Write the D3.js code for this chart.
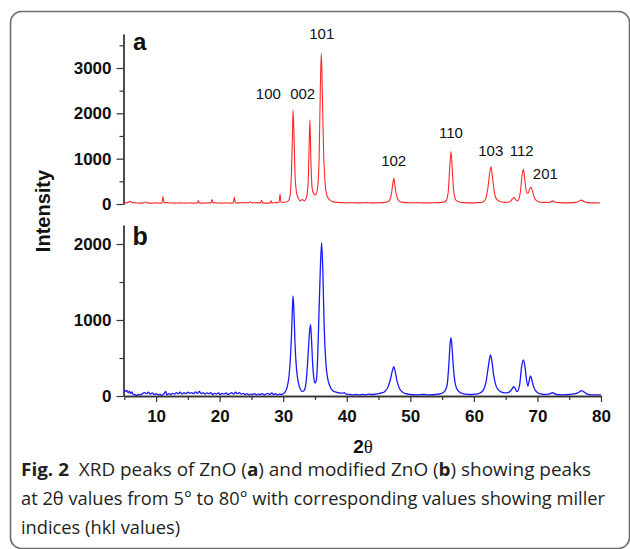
<!DOCTYPE html>
<html>
<head>
<meta charset="utf-8">
<script src="https://cdn.jsdelivr.net/npm/d3@7"></script>
<style>
  html, body { margin: 0; padding: 0; background: #fff; }
  svg { display: block; }
</style>
</head>
<body>
<div id="chart"></div>
<script>

// panel a : ZnO  (2theta, counts)
const thetaA = [5.0,5.5,5.9,6.2,6.8,7.5,8.0,8.3,8.6,9.2,10.0,10.6,10.95,11.1,11.25,11.6,12.2,13.0,13.8,14.5,15.3,16.0,16.5,16.65,16.8,17.5,18.2,18.65,18.8,18.95,19.5,20.3,21.0,21.8,22.15,22.3,22.45,23.0,23.8,24.5,24.8,25.1,25.8,26.4,26.6,26.8,27.4,28.0,28.1,28.25,28.8,29.35,29.5,29.65,30.2,30.8,31.1,31.3,31.45,31.55,31.7,31.85,32.1,32.4,32.7,33.0,33.3,33.6,33.9,34.05,34.2,34.35,34.55,34.8,35.1,35.4,35.65,35.85,36.0,36.15,36.35,36.6,36.9,37.3,37.8,38.5,39.3,40.0,40.8,41.5,42.3,43.0,43.8,44.5,45.3,46.0,46.6,47.0,47.25,47.4,47.55,47.8,48.2,48.8,49.5,50.3,51.0,52.0,53.0,54.0,55.0,55.6,55.95,56.2,56.4,56.6,56.85,57.2,57.8,58.5,59.5,60.5,61.3,61.8,62.2,62.5,62.7,62.9,63.2,63.6,64.2,65.0,65.7,66.0,66.3,66.6,66.9,67.3,67.6,67.8,68.0,68.3,68.55,68.8,69.0,69.2,69.5,69.9,70.5,71.3,72.0,72.4,72.8,73.5,74.5,75.5,76.3,76.9,77.4,78.0,79.0,79.8];
const countsA = [25,30,60,30,25,20,25,45,25,20,25,20,25,165,30,30,25,20,25,20,25,20,25,75,25,20,25,25,100,30,25,20,25,20,25,150,30,25,30,25,50,25,30,25,80,25,20,25,70,25,30,35,220,40,40,70,200,700,1500,2075,1500,700,250,120,70,100,70,120,400,1100,1855,1000,350,230,200,350,1000,2600,3325,2500,1200,450,180,90,50,35,30,25,30,25,25,30,25,25,30,35,60,200,450,567,430,200,70,35,30,25,30,25,25,30,35,60,250,800,1155,750,250,80,40,30,25,30,40,100,350,700,823,620,280,100,50,35,50,100,150,90,70,250,650,766,550,250,240,340,370,300,150,70,40,35,40,70,40,30,25,30,45,85,50,30,25,25];

// panel b : modified ZnO
const thetaB = [5.0,5.2,5.4,5.6,5.8,6.0,6.2,6.4,6.7,7.0,7.3,7.6,7.9,8.2,8.5,8.8,9.1,9.4,9.7,10.0,10.3,10.6,10.9,11.2,11.5,11.7,12.0,12.3,12.6,12.9,13.2,13.5,13.8,14.1,14.4,14.7,15.0,15.3,15.6,15.9,16.2,16.5,16.8,17.1,17.4,17.7,18.0,18.3,18.6,18.9,19.2,19.5,19.8,20.1,20.4,20.7,21.0,21.3,21.6,21.9,22.2,22.5,22.8,23.1,23.4,23.7,24.0,24.3,24.6,24.9,25.2,25.5,25.8,26.1,26.4,26.7,27.0,27.3,27.6,27.9,28.2,28.5,28.8,29.1,29.4,29.7,30.0,30.3,30.6,30.9,31.1,31.3,31.45,31.55,31.7,31.85,32.1,32.4,32.7,33.0,33.3,33.6,33.85,34.1,34.3,34.45,34.65,34.85,35.0,35.2,35.4,35.6,35.85,36.05,36.25,36.45,36.7,37.0,37.4,37.8,38.3,38.8,39.3,39.6,39.9,40.5,41.0,41.5,42.0,42.5,43.0,43.5,44.0,44.5,45.0,45.5,46.0,46.5,46.9,47.2,47.4,47.6,47.9,48.3,48.8,49.3,50.0,51.0,52.0,53.0,54.0,54.8,55.4,55.8,56.05,56.25,56.4,56.55,56.8,57.1,57.5,58.0,58.7,59.5,60.3,61.0,61.5,61.9,62.3,62.6,62.8,63.1,63.5,64.0,64.6,65.2,65.8,66.3,66.8,67.2,67.5,67.8,68.05,68.3,68.5,68.7,68.9,69.1,69.4,69.8,70.3,71.0,71.8,72.4,73.0,74.0,75.0,76.0,76.5,76.9,77.3,77.8,78.5,79.3,80.0];
const countsB = [80,60,75,40,65,30,55,20,15,10,20,15,35,45,30,50,25,40,20,30,15,20,10,25,60,15,30,20,35,25,45,30,50,25,45,30,50,35,45,30,55,35,60,30,45,25,40,30,45,20,35,25,40,20,35,25,40,20,30,45,25,50,30,45,25,35,20,30,15,25,20,30,15,25,20,30,15,25,35,20,40,20,30,15,25,20,30,50,110,250,450,800,1150,1316,1100,700,350,170,90,60,75,180,450,800,943,750,400,220,170,200,450,1000,1700,2017,1600,900,450,230,120,70,50,40,35,45,25,20,15,20,15,20,15,25,20,25,30,40,60,120,230,340,386,330,200,100,50,30,20,15,20,15,20,30,60,150,400,680,767,650,350,150,70,40,25,20,25,40,80,180,400,540,480,280,130,70,45,40,70,122,57,150,380,474,380,200,131,200,263,220,120,60,30,20,25,43,20,15,20,30,50,70,55,25,15,15,15];

const xTicks   = [10, 20, 30, 40, 50, 60, 70, 80];
const xMinor   = [5, 15, 25, 35, 45, 55, 65, 75];
const yTicksA  = [0, 1000, 2000, 3000];
const yMinorA  = [500, 1500, 2500, 3500];
const yTicksB  = [0, 1000, 2000];
const yMinorB  = [500, 1500];

// hkl labels for panel a, anchored in data units
const hklText  = ["100", "002", "101", "102", "110", "103", "112", "201"];
const hklTheta = [27.66, 33.07, 36.07, 47.38, 56.40, 62.65, 67.52, 71.24];
const hklCount = [2310, 2310, 3642, 845, 1464, 1060, 1060, 552];

const captionLines = [
  ["Fig. 2", "  XRD peaks of ZnO (", "a", ") and modified ZnO (", "b", ") showing peaks"],
  ["", "at 2θ values from 5° to 80° with corresponding values showing miller"],
  ["", "indices (hkl values)"]
];

const width = 630, height = 549;

const svg = d3.select("#chart")
  .append("svg")
    .attr("width", width)
    .attr("height", height);

// figure frame
svg.append("rect")
  .attr("x", 10.5).attr("y", 11.5)
  .attr("width", 619).attr("height", 537)
  .attr("rx", 11)
  .attr("fill", "none")
  .attr("stroke", "#6e6e6e")
  .attr("stroke-width", 1.6);

const x = d3.scaleLinear().domain([5, 80]).range([124.3, 601]);
const yA = d3.scaleLinear().domain([0, 3750]).range([204, 34]);
const yB = d3.scaleLinear().domain([0, 2250]).range([396, 225]);

const font = "'Liberation Sans', Arial, sans-serif";

function styleAxis(g) {
  g.selectAll("path").attr("stroke", "#333").attr("stroke-width", 1.3);
  g.selectAll("line").attr("stroke", "#333").attr("stroke-width", 1.2);
  g.selectAll("text")
    .attr("fill", "#111")
    .style("font-family", font)
    .style("font-weight", "bold")
    .style("font-size", "17px");
}

function drawPanel(y, theta, counts, majors, minors, color, lw) {
  const pts = theta.map((t, i) => [t, counts[i]]);

  svg.append("g")
    .attr("transform", "translate(123.5,0)")
    .call(d3.axisLeft(y).tickValues(minors).tickFormat("").tickSize(4).tickSizeOuter(0))
    .call(styleAxis);

  svg.append("g")
    .attr("transform", "translate(123.5,0)")
    .call(d3.axisLeft(y).tickValues(majors).tickFormat(d3.format("d")).tickSize(7).tickPadding(5).tickSizeOuter(0))
    .call(styleAxis);

  const line = d3.line()
    .x(d => x(d[0]))
    .y(d => y(d[1]))
    .curve(d3.curveMonotoneX);

  svg.append("path")
    .datum(pts)
    .attr("d", line)
    .attr("fill", "none")
    .attr("stroke", color)
    .attr("stroke-width", lw)
    .attr("stroke-linejoin", "round");
}

drawPanel(yA, thetaA, countsA, yTicksA, yMinorA, "#ff2828", 1.1);
drawPanel(yB, thetaB, countsB, yTicksB, yMinorB, "#1a1aff", 1.3);

// x axis only under panel b
svg.append("g")
  .attr("transform", "translate(0,396)")
  .call(d3.axisBottom(x).tickValues(xMinor).tickFormat("").tickSize(4).tickSizeOuter(0))
  .call(styleAxis);

svg.append("g")
  .attr("transform", "translate(0,396)")
  .call(d3.axisBottom(x).tickValues(xTicks).tickSize(6).tickPadding(8).tickSizeOuter(0))
  .call(styleAxis);

// panel letters
svg.append("text")
  .attr("x", 133).attr("y", 50)
  .style("font-family", font).style("font-weight", "bold").style("font-size", "24px")
  .attr("fill", "#111")
  .text("a");

svg.append("text")
  .attr("x", 132.5).attr("y", 245)
  .style("font-family", font).style("font-weight", "bold").style("font-size", "25px")
  .attr("fill", "#111")
  .text("b");

// hkl labels
svg.append("g")
  .selectAll("text")
  .data(hklText)
  .join("text")
    .attr("x", (d, i) => x(hklTheta[i]))
    .attr("y", (d, i) => yA(hklCount[i]))
    .attr("text-anchor", "middle")
    .style("font-family", font)
    .style("font-size", "15px")
    .attr("fill", "#111")
    .text(d => d);

// axis titles
svg.append("text")
  .attr("transform", "translate(50,211) rotate(-90)")
  .attr("text-anchor", "middle")
  .style("font-family", font).style("font-weight", "bold").style("font-size", "20px")
  .attr("fill", "#111")
  .text("Intensity");

const xt = svg.append("text")
  .attr("x", 363).attr("y", 452.5)
  .attr("text-anchor", "middle")
  .attr("fill", "#111")
  .style("font-size", "19px");
xt.append("tspan").style("font-family", font).style("font-weight", "bold").text("2");
xt.append("tspan").style("font-family", "'Liberation Serif', 'Times New Roman', serif").text("θ");

// caption: lines 1-2 fitted to the figure, line 3 squeezed by the line-2 factor
const capY = [476, 505, 534];
const capTexts = captionLines.map((parts, li) => {
  const t = svg.append("text")
    .attr("x", 21).attr("y", capY[li])
    .attr("fill", "#231f20")
    .style("font-family", "'Open Sans', 'Noto Sans', sans-serif")
    .style("font-size", "17.5px")
    .style("white-space", "pre");
  parts.forEach((p, pi) => {
    if (!p) return;
    t.append("tspan")
      .style("font-weight", (pi === 0 || p === "a" || p === "b") ? "bold" : "normal")
      .text(p);
  });
  return t;
});
const k = 584 / capTexts[1].node().getComputedTextLength();
const capW = [570, 584, capTexts[2].node().getComputedTextLength() * k];
capTexts.forEach((t, i) => {
  t.attr("textLength", capW[i]).attr("lengthAdjust", "spacingAndGlyphs");
});

</script>
</body>
</html>
